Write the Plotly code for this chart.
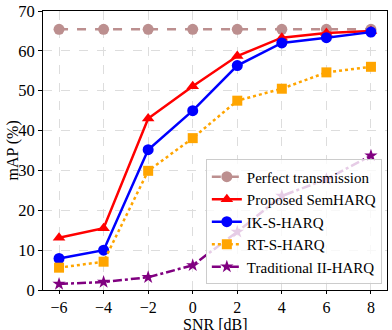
import plotly.graph_objects as go

snr = [-6, -4, -2, 0, 2, 4, 6, 8]
perfect = [65.4, 65.4, 65.4, 65.4, 65.4, 65.4, 65.4, 65.4]
semharq = [13.1, 15.5, 43.0, 51.1, 58.7, 63.3, 64.5, 65.0]
ik_s_harq = [7.9, 10.0, 35.2, 45.0, 56.3, 62.0, 63.3, 64.7]
rt_s_harq = [5.6, 7.1, 29.9, 38.1, 47.5, 50.5, 54.6, 56.0]
traditional = [1.5, 2.0, 3.2, 6.2, 14.6, 23.6, 27.8, 33.7]

series = [
    ("Perfect transmission", perfect, "#BC8F8F", "dash", "circle", 11),
    ("Proposed SemHARQ", semharq, "#FF0000", "solid", "triangle-up", 11),
    ("IK-S-HARQ", ik_s_harq, "#0000FF", "solid", "circle", 11),
    ("RT-S-HARQ", rt_s_harq, "#FFA500", "dot", "square", 10),
    ("Traditional II-HARQ", traditional, "#800080", "dashdot", "star", 10),
]

fig = go.Figure()
for i, (name, vals, color, dash, sym, ms) in enumerate(series):
    fig.add_trace(go.Scatter(
        x=snr, y=vals, name=name, mode="lines+markers", legendgroup=f"g{i}",
        line=dict(color=color, width=2.5, dash=dash),
        marker=dict(symbol=sym, size=ms, color=color),
    ))

font_family = "Liberation Serif"
fig.update_layout(
    width=392, height=330, autosize=False,
    margin=dict(l=43, r=5, t=11, b=40, autoexpand=False),
    plot_bgcolor="white", paper_bgcolor="white",
    font=dict(family=font_family, size=16, color="black"),
    showlegend=True,
    legend=dict(
        x=0.985, y=0.02, xanchor="right", yanchor="bottom",
        bgcolor="rgba(255,255,255,0.8)", bordercolor="#cccccc", borderwidth=1,
        font=dict(family=font_family, size=15),
        tracegroupgap=0, itemwidth=30,
    ),
    annotations=[
        dict(text="SNR [dB]", xref="paper", yref="paper", x=0.5, y=-0.122,
             xanchor="center", yanchor="middle", showarrow=False,
             font=dict(family=font_family, size=16)),
        dict(text="mAP (%)", xref="paper", yref="paper", x=-0.09, y=0.5,
             xanchor="center", yanchor="middle", showarrow=False, textangle=-90,
             font=dict(family=font_family, size=16)),
    ],
)
fig.update_xaxes(
    range=[-6.72, 8.72], tickvals=snr, ticktext=["\u22126", "\u22124", "\u22122", "0", "2", "4", "6", "8"],
    tickfont=dict(family=font_family, size=16), automargin=False,
    showline=True, linecolor="black", linewidth=1, mirror=True,
    ticks="outside", ticklen=3, tickcolor="black",
    showgrid=True, gridcolor="#dddddd", griddash="dash", gridwidth=1,
    zeroline=False,
)
fig.update_yaxes(
    range=[0, 70], tickvals=[0, 10, 20, 30, 40, 50, 60, 70],
    tickfont=dict(family=font_family, size=16.5), automargin=False,
    showline=True, linecolor="black", linewidth=1, mirror=True,
    ticks="outside", ticklen=4, tickcolor="black",
    showgrid=True, gridcolor="#dddddd", griddash="dash", gridwidth=1,
    zeroline=False,
)
fig.write_html("out.html", config={"displayModeBar": False, "responsive": False},
               post_script="document.body.style.margin='0';document.body.style.padding='0';")
